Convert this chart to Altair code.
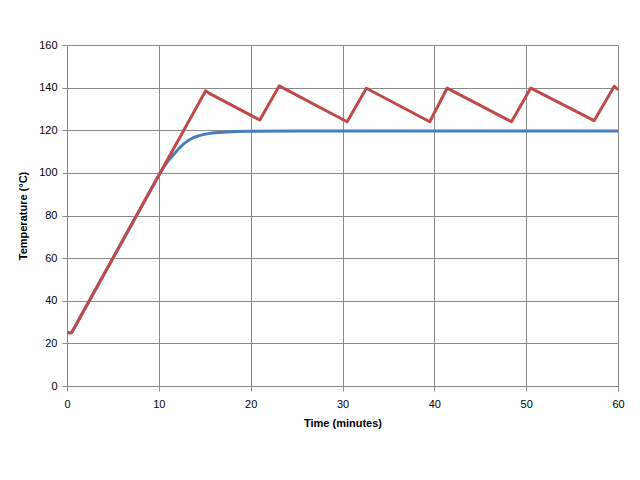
import altair as alt
import pandas as pd

# Red series (oven / cycling temperature)
red_t = [0, 0.5, 15.1, 15.5, 21.0, 23.1, 30.5, 32.6, 39.5, 41.4, 48.4, 50.5, 57.4, 59.6, 60]
red_v = [25, 25, 138.5, 137.3, 124.8, 140.8, 124.0, 139.7, 124.0, 139.8, 124.0, 139.8, 124.5, 140.6, 139]

# Blue series (settling temperature)
blue_t = [0, 0.5, 1, 2, 4, 6, 8, 9, 9.5, 10, 10.5, 11.0, 11.6, 12.2, 12.7, 13.3, 13.8, 14.5, 15.2, 16.0, 17.0, 18.5, 20.0, 25, 60]
blue_v = [25, 25, 28.9, 36.7, 52.2, 67.8, 83.3, 91.1, 95.0, 98.9, 102.5, 105.6, 108.5, 111.5, 113.6, 115.4, 116.6, 117.6, 118.3, 118.8, 119.1, 119.4, 119.5, 119.6, 119.6]

blue_df = pd.DataFrame({"t": blue_t, "v": blue_v, "o": range(len(blue_t))})
red_df = pd.DataFrame({"t": red_t, "v": red_v, "o": range(len(red_t))})

font = "Liberation Sans"

x_enc = alt.X("t:Q", scale=alt.Scale(domain=[0, 60], nice=False),
              axis=alt.Axis(title="Time (minutes)", values=[0, 10, 20, 30, 40, 50, 60],
                            labelFontSize=11, titleFontSize=11, titleFontWeight="bold",
                            labelFont=font, titleFont=font, titlePadding=8,
                            labelPadding=7, tickSize=5, labelFlush=False))
y_enc = alt.Y("v:Q", scale=alt.Scale(domain=[0, 160], nice=False),
              axis=alt.Axis(title="Temperature (°C)", values=[0, 20, 40, 60, 80, 100, 120, 140, 160],
                            labelFontSize=11, titleFontSize=11, titleFontWeight="bold",
                            labelFont=font, titleFont=font, titlePadding=10,
                            labelPadding=5, tickSize=5))

blue = alt.Chart(blue_df).mark_line(strokeWidth=3, strokeJoin="round", color="#4A7EBB").encode(
    x=x_enc, y=y_enc, order=alt.Order("o:Q"))
red = alt.Chart(red_df).mark_line(strokeWidth=3, strokeJoin="round", color="#BE4B48").encode(
    x=x_enc, y=y_enc, order=alt.Order("o:Q"))

chart = alt.layer(blue, red).properties(
    width=551, height=341,
    autosize=alt.AutoSizeParams(type="none"),
    padding={"left": 59, "top": 37, "right": 14, "bottom": 80},
).configure_axis(
    gridColor="#8a8a8a", gridWidth=1, domainColor="#8a8a8a", tickColor="#8a8a8a",
    labelColor="#000000", titleColor="#000000",
).configure_view(stroke=None)

chart.save("out.html", embed_options={"renderer": "svg", "actions": False})
